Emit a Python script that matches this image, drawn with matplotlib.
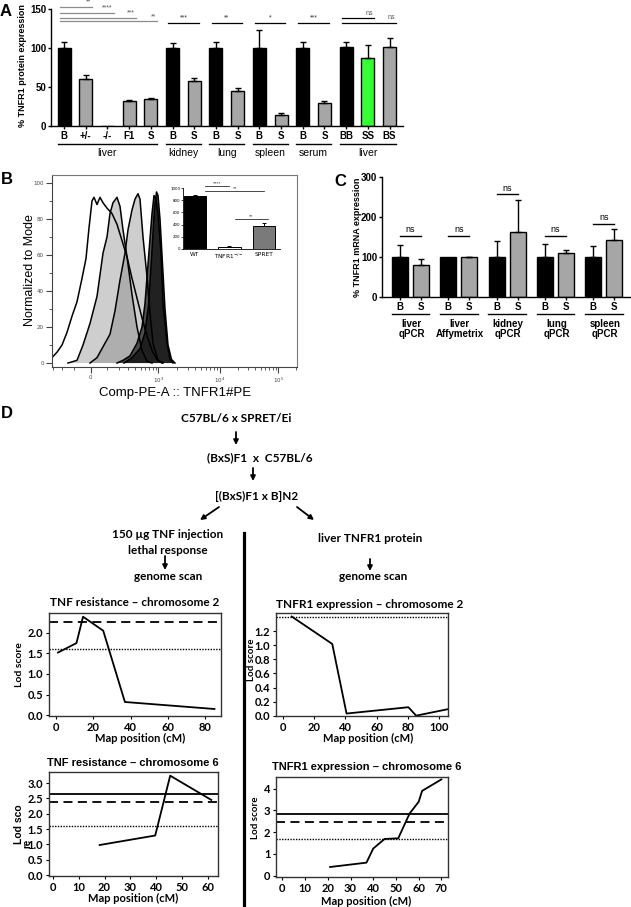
import matplotlib
matplotlib.use("Agg")
import matplotlib.pyplot as plt
import numpy as np
from matplotlib.patches import FancyArrowPatch

W, H = 631, 907
ARIAL = "Liberation Sans"
CALIBRI = "Lato"

# ---------------- A: TNFR1 protein ----------------
a_labels = ["B", "+/-", "-/-", "F1", "S", "B", "S", "B", "S", "B", "S", "B", "S", "BB", "SS", "BS"]
a_values = [100, 60, 0, 32, 35, 100, 58, 100, 45, 100, 14, 100, 30, 101, 87, 101]
a_errors = [8, 5, 0, 1.5, 1.5, 6, 3, 8, 4, 23, 3, 8, 2, 7, 17, 12]
a_colors = ["black", "#a6a6a6", "#a6a6a6", "#a6a6a6", "#a6a6a6", "black", "#a6a6a6",
            "black", "#a6a6a6", "black", "#a6a6a6", "black", "#a6a6a6",
            "black", "#33ff33", "#a6a6a6"]
a_groups = ["liver", "kidney", "lung", "spleen", "serum", "liver"]
a_group_first = [0, 5, 7, 9, 11, 13]
a_group_last = [4, 6, 8, 10, 12, 15]
a_sig_from = [0, 0, 0, 0, 5, 7, 9, 11, 13, 13]
a_sig_to = [1, 2, 3, 4, 6, 8, 10, 12, 14, 15]
a_sig_y = [153, 145, 139, 134.5, 132.5, 132.5, 132.5, 132.5, 138, 132.5]
a_sig_text = ["**", "****", "***", "**", "***", "**", "*", "***", "ns", "ns"]

# ---------------- B: flow histograms (channel vs % of mode) ----------------
b1_x = [0, 5, 10, 15, 20, 25, 30, 34, 37, 40, 42, 45, 48, 51, 55, 60, 65, 70, 75, 80, 85, 90, 95, 100, 105, 110]
b1_y = [3, 6, 10, 17, 26, 34, 47, 58, 75, 90, 92, 88, 92, 89, 86, 83, 77, 68, 59, 47, 36, 25, 15, 7, 2, 0]
b2_x = [16, 25, 31, 38, 45, 51, 55, 58, 61, 65, 68, 71, 75, 80, 85, 90, 95, 100]
b2_y = [0, 1.5, 10, 22, 37, 61, 70, 83, 89, 92, 87, 74, 59, 38, 20, 7, 1, 0]
b3_x = [38, 45, 51, 58, 63, 68, 73, 76, 80, 83, 86, 88, 91, 95, 98, 101, 106, 111]
b3_y = [0, 3, 9, 16, 29, 46, 61, 74, 85, 91, 94, 91, 70, 48, 28, 11, 1.5, 0]
b4_x = [65, 71, 78, 85, 90, 93, 96, 100, 102, 104, 106, 109, 111, 115, 118, 121]
b4_y = [0, 1.5, 4, 11, 20, 33, 55, 83, 93, 91, 83, 61, 33, 11, 2, 0]
b5_x = [72, 80, 88, 93, 96.5, 99.5, 102.5, 104.5, 106, 108, 110.5, 113, 116, 119.5, 123]
b5_y = [0, 3, 8, 17, 32, 58, 86, 95, 93, 80, 55, 30, 10, 2, 0]
b_tick_pos = [38.7, 106.3, 168.0, 226.3]
b_tick_labels = ["0", "$10^3$", "$10^4$", "$10^5$"]
inset_labels = ["WT", "TNFR1$^{-/-}$", "SPRET"]
inset_values = [870, 40, 370]
inset_errors = [12, 5, 50]
inset_colors = ["black", "white", "#7a7a7a"]

# ---------------- C: TNFR1 mRNA ----------------
c_groups = ["liver\nqPCR", "liver\nAffymetrix", "kidney\nqPCR", "lung\nqPCR", "spleen\nqPCR"]
c_b_values = [100, 100, 100, 100, 100]
c_b_errors = [30, 0, 40, 32, 27]
c_s_values = [80, 99, 163, 111, 143]
c_s_errors = [15, 1, 80, 6, 27]
c_ns_y = [153, 153, 257, 153, 183]

# ---------------- D: lod curves ----------------
tnf2_pos = [1.2, 11.1, 14.6, 25.4, 37.0, 84.9]
tnf2_lod = [1.52, 1.75, 2.39, 2.05, 0.32, 0.15]
tnf2_thr = {"dashed": 2.25, "dotted": 1.61}
r2_pos = [5.4, 31.5, 40.7, 80.5, 85.5, 105.5]
r2_lod = [1.41, 1.02, 0.03, 0.12, 0.0, 0.09]
r2_thr = {"dotted": 1.41}
tnf6_pos = [18.1, 39.6, 45.4, 61.3]
tnf6_lod = [0.98, 1.29, 3.24, 2.45]
tnf6_thr = {"solid": 2.64, "dashed": 2.37, "dotted": 1.60}
r6_pos = [21, 37, 40, 45, 51, 56, 60, 61.5, 70]
r6_lod = [0.4, 0.6, 1.25, 1.69, 1.72, 2.86, 3.4, 3.9, 4.43]
r6_thr = {"solid": 2.86, "dashed": 2.48, "dotted": 1.71}

fig = plt.figure(figsize=(W / 100, H / 100), dpi=100)


def px_axes(left, top, right, bottom):
    return fig.add_axes([left / W, 1 - bottom / H, (right - left) / W, (bottom - top) / H])


over = fig.add_axes([0, 0, 1, 1])
over.set_xlim(0, W)
over.set_ylim(H, 0)
over.axis("off")


def put(x, y, s, size, bold=True, font=ARIAL, rot=0, ha="center", va="center", **kw):
    over.text(x, y, s, fontsize=size, fontweight="bold" if bold else "normal",
              family=font, rotation=rot, ha=ha, va=va, **kw)


def arrow(x0, y0, x1, y1):
    over.add_patch(FancyArrowPatch((x0, y0), (x1, y1), arrowstyle="-|>", mutation_scale=7,
                                   lw=1.3, color="black", shrinkA=0, shrinkB=0))


# panel letters
for letter, x, y in [("A", 6, 12), ("B", 7, 180), ("C", 340, 181), ("D", 7, 414)]:
    put(x, y, letter, 12)

# ======== A ========
axA = px_axes(51, 9, 403, 126)
xa = np.arange(len(a_values))
axA.bar(xa, a_values, width=0.6, color=a_colors, edgecolor="black", linewidth=1.0, zorder=2)
keep = [i for i, e in enumerate(a_errors) if e > 0]
axA.errorbar(xa[keep], np.array(a_values)[keep],
             yerr=[np.zeros(len(keep)), np.array(a_errors)[keep]],
             fmt="none", ecolor="black", elinewidth=1.0, capsize=2.5, capthick=1.0, zorder=3)
axA.set_xlim(-0.6, 15.62)
axA.set_ylim(0, 150)
axA.set_yticks([0, 50, 100, 150])
axA.set_xticks(xa)
axA.set_xticklabels(a_labels)
for lab in axA.get_xticklabels() + axA.get_yticklabels():
    lab.set_fontweight("bold")
    lab.set_fontsize(7)
    lab.set_family(ARIAL)
axA.spines[["top", "right"]].set_visible(False)
for s in ["left", "bottom"]:
    axA.spines[s].set_linewidth(1.0)
axA.tick_params(length=2, width=1, pad=1.5)
put(23, 66, "% TNFR1 protein expression", 6.5, rot=90)

for name, g0, g1 in zip(a_groups, a_group_first, a_group_last):
    axA.plot([g0 - 0.3, g1 + 0.3], [-23, -23], color="black", lw=1, clip_on=False)
    axA.text((g0 + g1) / 2, -35, name, ha="center", va="center", fontsize=7.5, family=ARIAL)

for i0, i1, y, t in zip(a_sig_from, a_sig_to, a_sig_y, a_sig_text):
    liver = i0 in (0, 13)
    col = "#8c8c8c" if i0 == 0 else "black"
    x0 = i0 - 0.2
    x1 = i1 + 0.3 if liver else i1 + 0.2
    axA.plot([x0, x1], [y, y], color=col, lw=0.9, clip_on=False)
    if liver:
        axA.text(x1 - 0.05, y + 1.5, t, ha="right", va="bottom", fontsize=5, color="#555555",
                 family=ARIAL, clip_on=False)
    else:
        axA.text((x0 + x1) / 2, y + 1.5, t, ha="center", va="bottom", fontsize=5, color="#333333",
                 family=ARIAL, clip_on=False)

# ======== B ========
axB = px_axes(52, 175, 297, 367)
curves = [(b1_x, b1_y, (1, 1, 1, 1)),
          (b2_x, b2_y, (0.45, 0.45, 0.45, 0.35)),
          (b3_x, b3_y, (0.45, 0.45, 0.45, 0.35)),
          (b4_x, b4_y, (0.22, 0.22, 0.22, 0.85)),
          (b5_x, b5_y, (0.08, 0.08, 0.08, 0.8))]
for xs, ys, fc in curves:
    axB.fill_between(xs, ys, 0, facecolor=fc, linewidth=0)
for xs, ys, fc in curves:
    axB.plot(xs, ys, color="black", lw=1.1)
axB.set_xlim(0, 245)
axB.set_ylim(-2.2, 104.4)
axB.set_yticks([0, 20, 40, 60, 80, 100])
axB.set_yticks(np.arange(0, 101, 10), minor=True)
axB.set_xticks(b_tick_pos)
axB.set_xticklabels(b_tick_labels)
lin = np.arcsinh(np.arange(100, 1000, 100) / 150) / np.arcsinh(1000 / 150) * (b_tick_pos[1] - b_tick_pos[0])
minor = list(b_tick_pos[0] + lin) + list(b_tick_pos[0] - lin[:3])
for base, step in [(b_tick_pos[1], 61.7), (b_tick_pos[2], 58.3), (b_tick_pos[3], 58.3)]:
    minor += [base + step * np.log10(k) for k in range(2, 10)]
axB.set_xticks([m for m in minor if 0 < m < 245], minor=True)
axB.tick_params(axis="both", which="major", labelsize=4, length=4, width=0.8, colors="#444444", pad=2)
axB.tick_params(axis="both", which="minor", length=2, width=0.6, colors="#444444")
for sp in axB.spines.values():
    sp.set_linewidth(0.8)
    sp.set_color("#777777")
axB.spines["left"].set_color("#444444")
axB.spines["bottom"].set_color("#444444")
put(30, 270, "Normalized to Mode", 9, bold=False, rot=90)
put(175, 393, "Comp-PE-A :: TNFR1#PE", 9.5, bold=False)

axI = px_axes(183, 188, 280, 249)
xi = np.arange(3)
axI.bar(xi, inset_values, width=0.64, color=inset_colors, edgecolor="black", linewidth=0.7)
axI.errorbar(xi, inset_values, yerr=[np.zeros(3), inset_errors], fmt="none", ecolor="black",
             elinewidth=0.7, capsize=1.5, capthick=0.7)
axI.set_xlim(-0.34, 2.46)
axI.set_ylim(0, 1000)
axI.set_yticks(np.arange(0, 1001, 200))
axI.set_xticks(xi)
axI.set_xticklabels(inset_labels)
axI.tick_params(axis="y", labelsize=2.8, length=1.2, width=0.5, pad=0.6)
axI.tick_params(axis="x", labelsize=4.2, length=0, pad=2)
axI.spines[["top", "right"]].set_visible(False)
for s in ["left", "bottom"]:
    axI.spines[s].set_linewidth(0.6)
put(170, 218, "Median TNFR1#PE signal", 3.2, bold=False, rot=90)
for x0, x1, y, t in [(0.3, 1.0, 1030, "****"), (0.3, 2.0, 958, "**"), (1.15, 2.1, 490, "**")]:
    axI.plot([x0, x1], [y, y], color="black", lw=0.5, clip_on=False)
    axI.text((x0 + x1) / 2, y + 10, t, ha="center", va="bottom", fontsize=3, clip_on=False)

# ======== C ========
axC = px_axes(382, 177, 630, 297)
gpos = np.arange(5) * 2.3
xb, xs_ = gpos, gpos + 1.0
axC.bar(xb, c_b_values, width=0.75, color="black", edgecolor="black", linewidth=1.0, zorder=2)
axC.bar(xs_, c_s_values, width=0.75, color="#a6a6a6", edgecolor="black", linewidth=1.0, zorder=2)
for xx, vv, ee in [(xb, c_b_values, c_b_errors), (xs_, c_s_values, c_s_errors)]:
    k = [i for i, e in enumerate(ee) if e > 0]
    axC.errorbar(np.array(xx)[k], np.array(vv)[k], yerr=[np.zeros(len(k)), np.array(ee)[k]],
                 fmt="none", ecolor="black", elinewidth=1.0, capsize=2.5, capthick=1.0, zorder=3)
axC.set_xlim(-0.86, 10.95)
axC.set_ylim(0, 300)
axC.set_yticks([0, 100, 200, 300])
axC.set_xticks(np.concatenate([xb, xs_]))
axC.set_xticklabels(["B"] * 5 + ["S"] * 5)
for lab in axC.get_xticklabels() + axC.get_yticklabels():
    lab.set_fontweight("bold")
    lab.set_fontsize(7)
    lab.set_family(ARIAL)
axC.spines[["top", "right"]].set_visible(False)
for s in ["left", "bottom"]:
    axC.spines[s].set_linewidth(1.0)
axC.tick_params(length=2, width=1, pad=1.5)
put(358, 237, "% TNFR1 mRNA expression", 6.5, rot=90)
for g, name, y in zip(gpos, c_groups, c_ns_y):
    axC.plot([g - 0.4, g + 1.4], [-43, -43], color="black", lw=1, clip_on=False)
    axC.text(g + 0.55, -81, name, ha="center", va="center", fontsize=7, fontweight="bold",
             family=ARIAL, linespacing=1.0, clip_on=False)
    axC.plot([g, g + 1.0], [y, y], color="black", lw=1, clip_on=False)
    axC.text(g + 0.5, y + 4, "ns", ha="center", va="bottom", fontsize=6.5, family=ARIAL, clip_on=False)

# ======== D: crossing scheme ========
FS = 8.5
put(236, 418, "C57BL/6 x SPRET/Ei", FS, font=CALIBRI)
arrow(236, 432, 236, 445)
put(260, 458, "(BxS)F1  x  C57BL/6", FS, font=CALIBRI)
arrow(253, 468, 253, 481)
put(257, 496, "[(BxS)F1 x B]N2", FS, font=CALIBRI)
arrow(219, 507, 200, 520)
arrow(297, 507, 314, 520)
put(168, 535, "150 \u00b5g TNF injection", FS, font=CALIBRI)
put(168, 550, "lethal response", FS, font=CALIBRI)
arrow(165, 556, 165, 570)
put(168, 577, "genome scan", FS, font=CALIBRI)
put(370, 538, "liver TNFR1 protein", FS, font=CALIBRI)
arrow(370, 559, 370, 571)
put(373, 577, "genome scan", FS, font=CALIBRI)
over.plot([244, 244], [533, 905], color="black", lw=2.3)


def lod_axes(box, pos, lod, thr, xlim, ylim, xticks, yticks, yfmt):
    ax = px_axes(*box)
    styles = {"solid": "-", "dashed": (0, (5, 3)), "dotted": (0, (1, 1))}
    widths = {"solid": 1.3, "dashed": 1.3, "dotted": 1.0}
    for kind, val in thr.items():
        ax.axhline(val, color="black", ls=styles[kind], lw=widths[kind])
    ax.plot(pos, lod, color="black", lw=1.3)
    ax.set_xlim(*xlim)
    ax.set_ylim(*ylim)
    ax.set_xticks(xticks)
    ax.set_yticks(yticks)
    ax.set_yticklabels([yfmt.format(v) for v in yticks])
    for lab in ax.get_xticklabels() + ax.get_yticklabels():
        lab.set_fontweight("bold")
        lab.set_fontsize(8)
        lab.set_family(CALIBRI)
    for sp in ax.spines.values():
        sp.set_linewidth(1.0)
        sp.set_color("#333333")
    ax.tick_params(length=2, width=0.8, pad=2)
    return ax


lod_axes((49, 613, 221, 716), tnf2_pos, tnf2_lod, tnf2_thr, (-3.6, 88.4), (-0.02, 2.48),
         [0, 20, 40, 60, 80], [0, 0.5, 1.0, 1.5, 2.0], "{:.1f}")
lod_axes((276, 613, 448, 716), r2_pos, r2_lod, r2_thr, (-4.7, 106), (-0.005, 1.46),
         [0, 20, 40, 60, 80, 100], [0, 0.2, 0.4, 0.6, 0.8, 1.0, 1.2], "{:.1f}")
lod_axes((49, 772, 218, 876), tnf6_pos, tnf6_lod, tnf6_thr, (-1.5, 63.9), (-0.03, 3.36),
         [0, 10, 20, 30, 40, 50, 60], [0, 0.5, 1.0, 1.5, 2.0, 2.5, 3.0], "{:.1f}")
lod_axes((276, 777, 448, 877), r6_pos, r6_lod, r6_thr, (-2.8, 72.9), (-0.06, 4.54),
         [0, 10, 20, 30, 40, 50, 60, 70], [0, 1, 2, 3, 4], "{:.0f}")

put(135, 603, "TNF resistance \u2013 chromosome 2", 8.5, font=CALIBRI)
put(370, 604, "TNFR1 expression \u2013 chromosome 2", 8.5, font=CALIBRI)
put(133, 763, "TNF resistance \u2013 chromosome 6", 8, font=ARIAL)
put(367, 767, "TNFR1 expression \u2013 chromosome 6", 8, font=ARIAL)
for x, y in [(140, 738), (368, 738), (133, 898), (366, 901)]:
    put(x, y, "Map position (cM)", 8, font=CALIBRI)
put(20, 665, "Lod score", 7.5, font=CALIBRI, rot=90)
put(251, 660, "Lod score", 7, font=CALIBRI, rot=90)
put(256, 818, "Lod score", 7, font=CALIBRI, rot=90)
put(19, 824, "Lod sco", 7.5, font=ARIAL, rot=90)
put(27, 843, "re", 7, font=ARIAL, rot=90)

fig.savefig("out.png", dpi=100)
